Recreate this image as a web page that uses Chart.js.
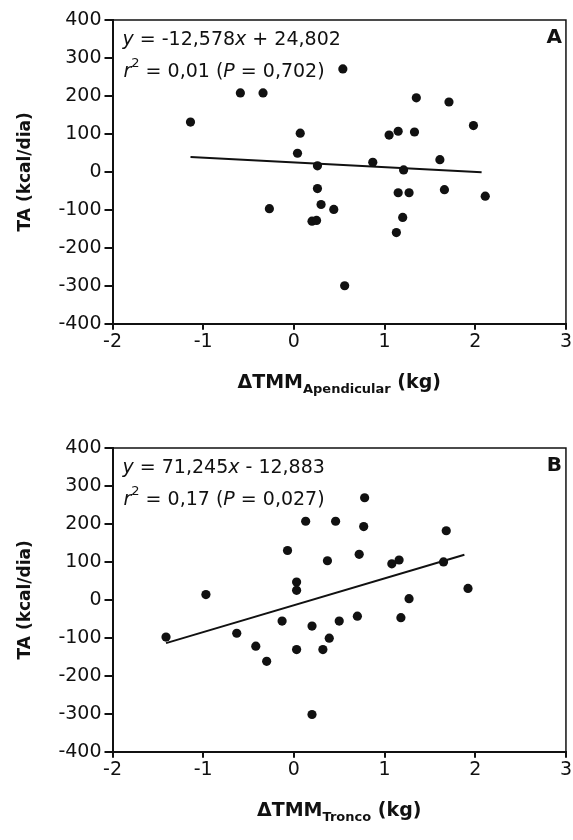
<!DOCTYPE html>
<html>
<head>
<meta charset="utf-8">
<script src="https://cdn.jsdelivr.net/npm/chart.js@4.4.1/dist/chart.umd.min.js"></script>
<style>
  body { margin: 0; background: #fff; }
  .panel { position: absolute; left: 0; width: 573px; height: 400px; }
  #panelA { top: 0; }
  #panelB { top: 428px; }
</style>
</head>
<body>
<div class="panel" id="panelA"><canvas id="chartA"></canvas></div>
<div class="panel" id="panelB"><canvas id="chartB"></canvas></div>
<script>
// axis ticks shared by both panels
const xTicks = [-2, -1, 0, 1, 2, 3];
const yTicks = [-400, -300, -200, -100, 0, 100, 200, 300, 400];

// panel A: delta TMM apendicular (kg) vs TA (kcal/dia)
const apendX = [-1.14, -0.59, -0.34, 0.54, 0.07, 0.04, 0.26, 0.26, 0.87, 1.05, 1.15, 1.33, 1.35, 1.71, 1.98,
  1.61, 1.21, 1.15, 1.27, 1.66, 2.11, -0.27, 0.30, 0.44, 0.20, 0.25, 0.56, 1.20, 1.13];
const apendY = [131, 208, 208, 271, 102, 49, 16, -44, 25, 97, 107, 105, 195, 184, 122,
  32, 5, -55, -55, -47, -64, -97, -86, -99, -130, -128, -300, -120, -160];
const apendFitX = [-1.14, 2.07];
const apendFitY = [39, -1];

// panel B: delta TMM tronco (kg) vs TA (kcal/dia)
const troncoX = [-0.97, -0.07, 0.13, 0.46, 0.37, 0.03, 0.03, 0.78, 0.77, 1.68, 0.72, 1.08, 1.16, 1.65, 1.92,
  1.27, 0.50, 0.70, 1.18, -1.41, -0.63, -0.42, -0.30, -0.13, 0.20, 0.03, 0.32, 0.39, 0.20];
const troncoY = [14, 130, 207, 207, 103, 47, 25, 269, 193, 182, 120, 95, 105, 100, 30,
  3, -56, -43, -47, -98, -88, -122, -162, -56, -69, -131, -131, -101, -302];
const troncoFitX = [-1.41, 1.88];
const troncoFitY = [-114, 119];

const FONT = '"DejaVu Sans", sans-serif';
const INK = '#111';

function partFont(p, size, bold) {
  const s = (p.sup || p.sub) ? Math.round(size * 0.68) : size;
  return (p.it ? 'italic ' : '') + (bold ? 'bold ' : '') + s + 'px ' + FONT;
}

function richWidth(ctx, parts, size, bold) {
  let w = 0;
  parts.forEach(p => { ctx.font = partFont(p, size, bold); w += ctx.measureText(p.t).width; });
  return w;
}

function drawRich(ctx, parts, x, y, size, bold) {
  parts.forEach(p => {
    ctx.font = partFont(p, size, bold);
    const dy = p.sup ? -size * 0.55 : p.sub ? size * 0.28 : 0;
    ctx.fillText(p.t, x, y + dy);
    x += ctx.measureText(p.t).width;
  });
}

// box frame, regression text, panel letter and x title with subscript
const frameAndText = {
  id: 'frameAndText',
  afterDraw(chart, args, opts) {
    const { ctx, chartArea: a } = chart;
    ctx.save();
    ctx.strokeStyle = INK;
    ctx.lineWidth = 1.5;
    ctx.beginPath();
    ctx.moveTo(a.left, a.top);
    ctx.lineTo(a.right, a.top);
    ctx.lineTo(a.right, a.bottom);
    ctx.stroke();

    ctx.fillStyle = INK;
    ctx.textAlign = 'left';
    ctx.textBaseline = 'alphabetic';
    drawRich(ctx, opts.eq1, a.left + 10, a.top + 25, 19, false);
    drawRich(ctx, opts.eq2, a.left + 11, a.top + 57, 19, false);

    ctx.font = 'bold 20px ' + FONT;
    ctx.textAlign = 'right';
    ctx.fillText(opts.letter, a.right - 4, a.top + 23);

    ctx.textAlign = 'left';
    const w = richWidth(ctx, opts.xTitle, 19, true);
    drawRich(ctx, opts.xTitle, (a.left + a.right) / 2 - w / 2, a.bottom + 64, 19, true);
    ctx.restore();
  }
};

function makeChart(id, xs, ys, fitX, fitY, notes) {
  const pts = xs.map((x, i) => ({ x: x, y: ys[i] }));
  const fit = fitX.map((x, i) => ({ x: x, y: fitY[i] }));
  new Chart(document.getElementById(id).getContext('2d'), {
    type: 'scatter',
    data: {
      datasets: [
        { data: pts, pointRadius: 4.6, pointBackgroundColor: INK, pointBorderWidth: 0 },
        { type: 'line', data: fit, borderColor: INK, borderWidth: 2, pointRadius: 0, fill: false }
      ]
    },
    options: {
      responsive: true,
      maintainAspectRatio: false,
      animation: false,
      layout: { padding: { top: 20, right: 6, left: 0, bottom: 0 } },
      plugins: {
        legend: { display: false },
        tooltip: { enabled: false },
        frameAndText: notes
      },
      scales: {
        x: {
          type: 'linear', min: -2, max: 3,
          afterBuildTicks: s => { s.ticks = xTicks.map(v => ({ value: v })); },
          afterFit: s => { s.height = 76.3; },
          ticks: { color: INK, font: { family: FONT, size: 19 }, padding: 1 },
          grid: { drawOnChartArea: false, tickLength: 6, color: INK, lineWidth: 2 },
          border: { color: INK, width: 2 }
        },
        y: {
          min: -400, max: 400,
          afterBuildTicks: s => { s.ticks = yTicks.map(v => ({ value: v })); },
          afterFit: s => { s.width = 112.5; },
          ticks: { color: INK, font: { family: FONT, size: 19 }, padding: 3 },
          grid: { drawOnChartArea: false, tickLength: 8, color: INK, lineWidth: 2 },
          border: { color: INK, width: 2 },
          title: {
            display: true, text: 'TA (kcal/dia)', color: INK,
            font: { family: FONT, size: 17, weight: 'bold' }, padding: { top: 15, bottom: 0 }
          }
        }
      }
    },
    plugins: [frameAndText]
  });
}

makeChart('chartA', apendX, apendY, apendFitX, apendFitY, {
  letter: 'A',
  eq1: [{ t: 'y', it: true }, { t: ' = -12,578' }, { t: 'x', it: true }, { t: ' + 24,802' }],
  eq2: [{ t: 'r', it: true }, { t: '2', sup: true }, { t: ' = 0,01 (' }, { t: 'P', it: true }, { t: ' = 0,702)' }],
  xTitle: [{ t: '\u0394TMM' }, { t: 'Apendicular', sub: true }, { t: ' (kg)' }]
});

makeChart('chartB', troncoX, troncoY, troncoFitX, troncoFitY, {
  letter: 'B',
  eq1: [{ t: 'y', it: true }, { t: ' = 71,245' }, { t: 'x', it: true }, { t: ' - 12,883' }],
  eq2: [{ t: 'r', it: true }, { t: '2', sup: true }, { t: ' = 0,17 (' }, { t: 'P', it: true }, { t: ' = 0,027)' }],
  xTitle: [{ t: '\u0394TMM' }, { t: 'Tronco', sub: true }, { t: ' (kg)' }]
});
</script>
</body>
</html>
